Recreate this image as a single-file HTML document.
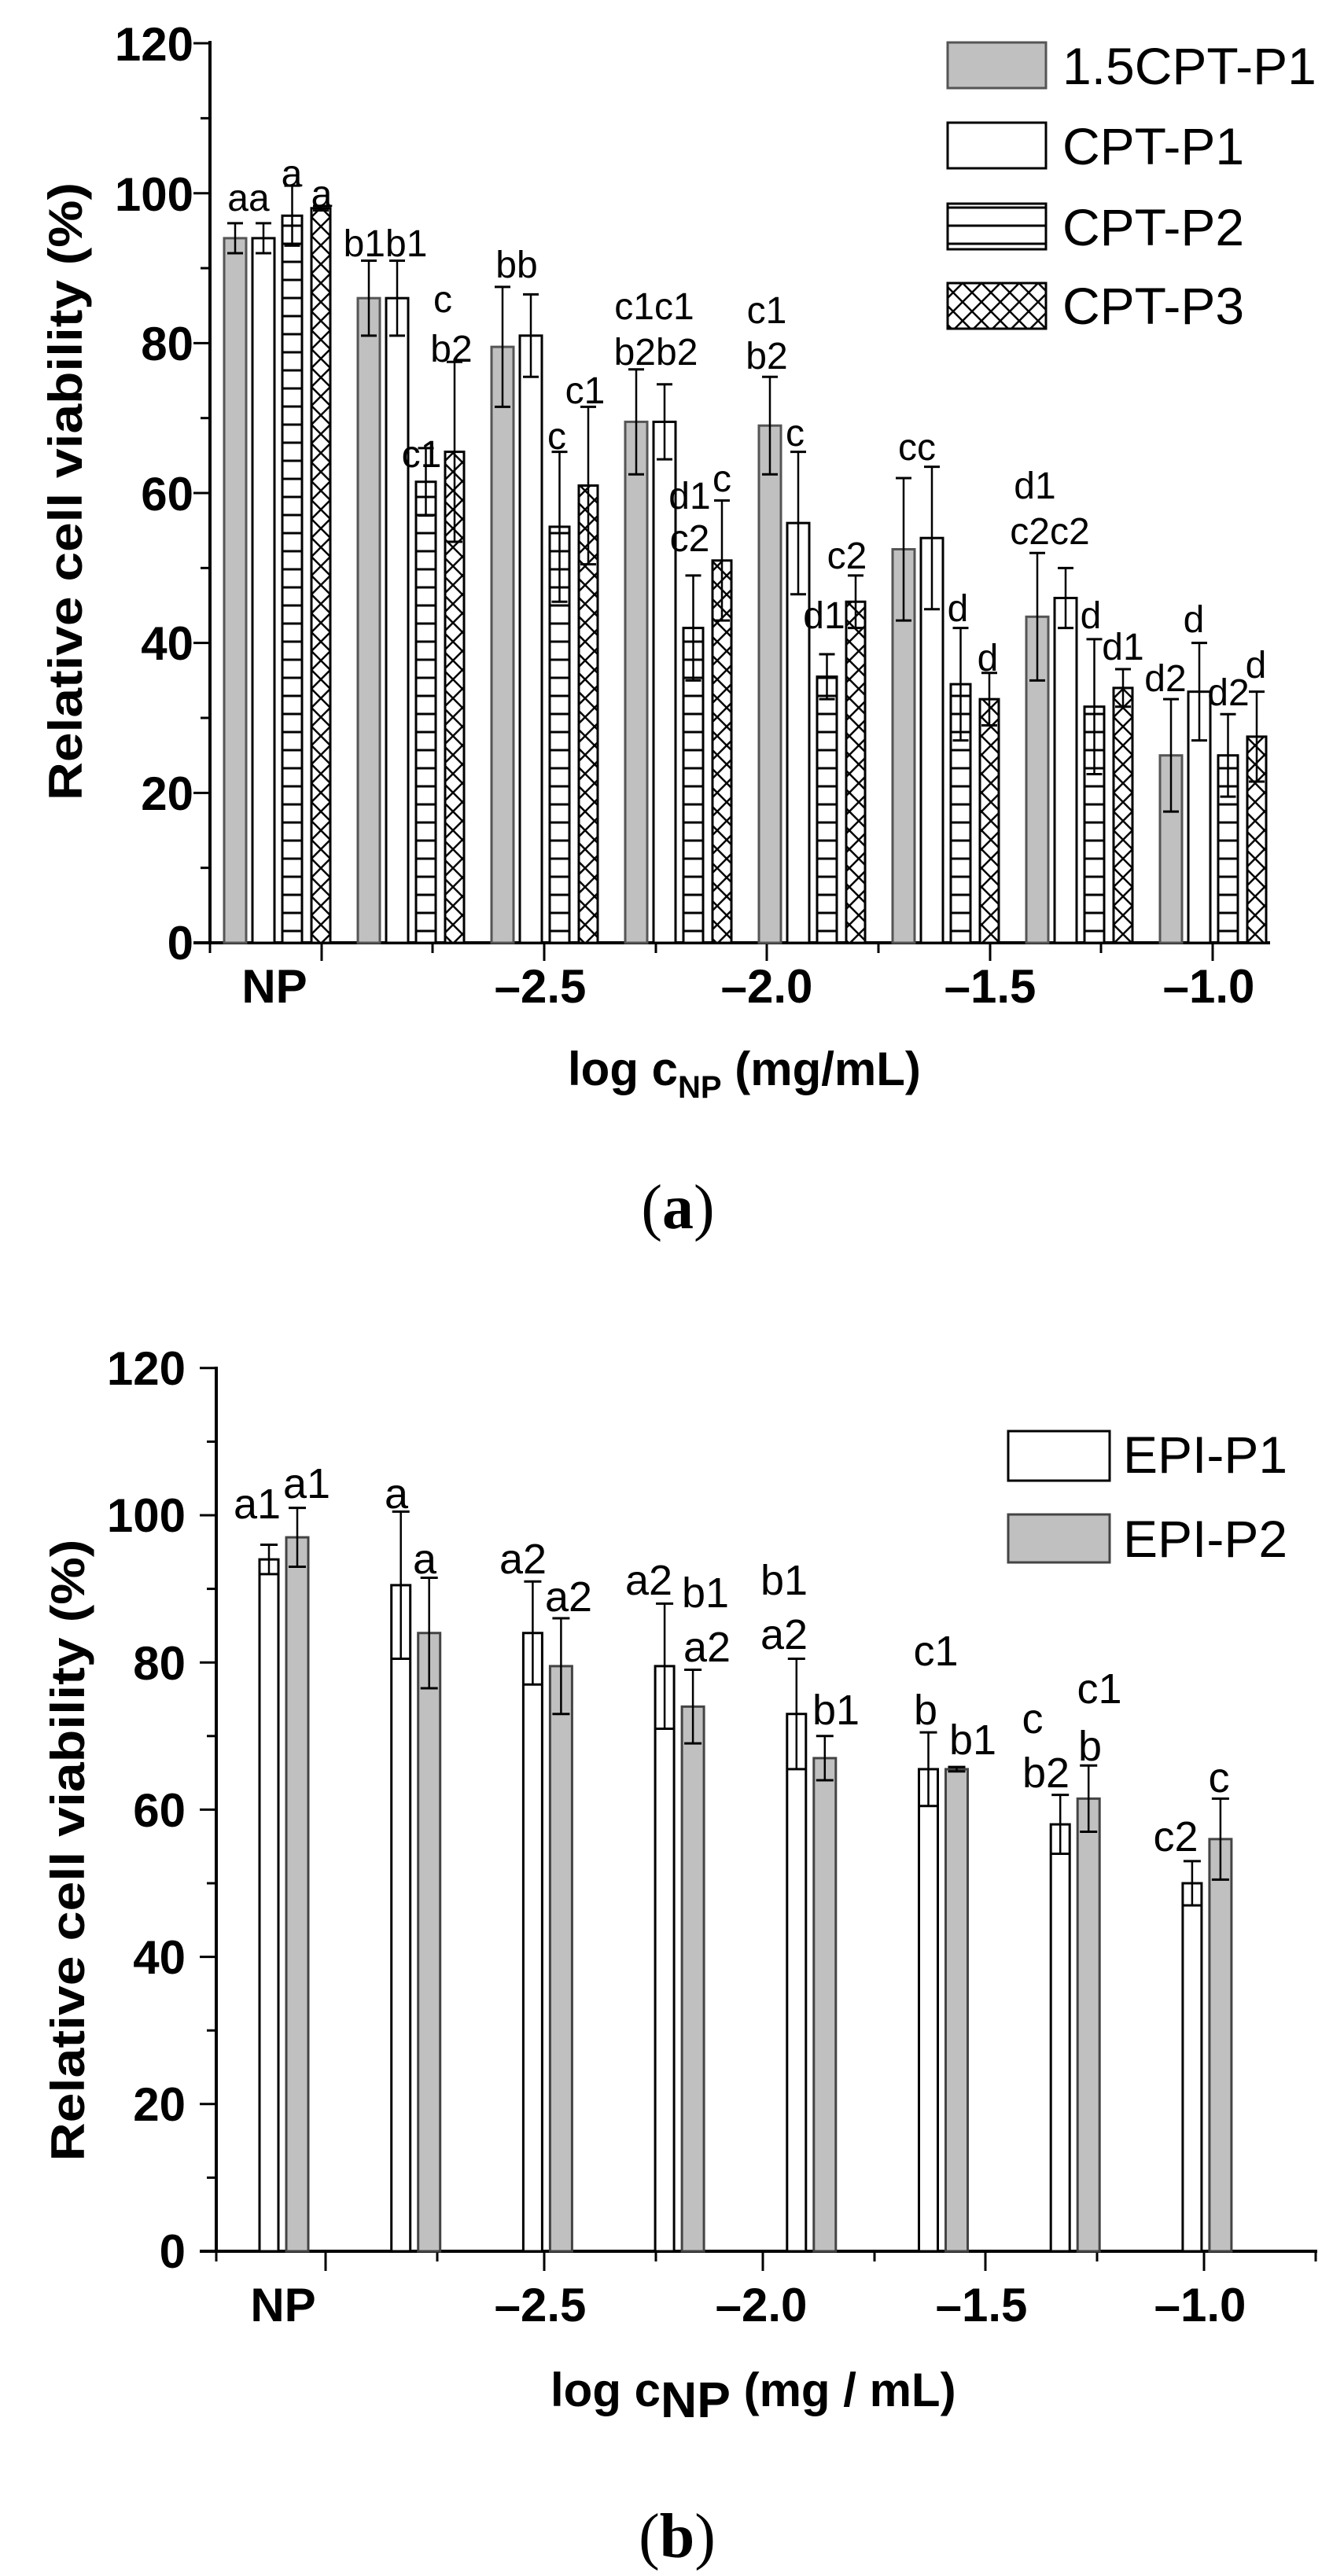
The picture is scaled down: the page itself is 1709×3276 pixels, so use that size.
<!DOCTYPE html>
<html><head><meta charset="utf-8"><style>
html,body{margin:0;padding:0;background:#fff;}
svg{display:block;}
text{font-family:"Liberation Sans",Arial,sans-serif;fill:#000;}
.t{font-weight:bold;font-size:60px;}
.l{font-size:48px;}
.lb{font-size:54px;}
.lg{font-size:66px;}
</style></head><body>
<svg id="s" width="1709" height="3276" viewBox="0 0 1709 3276" xmlns="http://www.w3.org/2000/svg">
<defs>
<pattern id="hz" patternUnits="userSpaceOnUse" width="40" height="23"><rect width="40" height="23" fill="#fff"/><line x1="0" y1="11" x2="40" y2="11" stroke="#000" stroke-width="3"/></pattern>
<pattern id="cx" patternUnits="userSpaceOnUse" width="24" height="24"><rect width="24" height="24" fill="#fff"/><path d="M0 0L24 24M24 0L0 24" stroke="#000" stroke-width="2.5"/></pattern>
</defs>
<g id="g"></g>
<!-- Chart A text -->
<g class="t" text-anchor="end">
<text x="246" y="77">120</text><text x="246" y="268">100</text><text x="246" y="458">80</text><text x="246" y="649">60</text><text x="246" y="839">40</text><text x="246" y="1030">20</text><text x="246" y="1220">0</text>
</g>
<g class="t" text-anchor="middle">
<text x="349" y="1275">NP</text><text x="687" y="1275">–2.5</text><text x="975" y="1275">–2.0</text><text x="1259" y="1275">–1.5</text><text x="1537" y="1275">–1.0</text>
</g>
<text class="t" transform="translate(104,625) rotate(-90)" text-anchor="middle" font-size="62" textLength="786" lengthAdjust="spacingAndGlyphs">Relative cell viability (%)</text>
<text class="t" x="722" y="1380" font-size="64">log c<tspan font-size="40" dy="16">NP</tspan><tspan dy="-16"> (mg/mL)</tspan></text>
<text x="862" y="1562" text-anchor="middle" font-family="Liberation Serif,serif" font-size="80" style="font-family:'Liberation Serif',serif">(<tspan font-weight="bold">a</tspan>)</text>
<g class="lg"><text x="1351" y="107">1.5CPT-P1</text><text x="1351" y="209">CPT-P1</text><text x="1351" y="312">CPT-P2</text><text x="1351" y="412">CPT-P3</text></g>
<g class="l" text-anchor="middle">
<text x="316" y="268">aa</text><text x="371" y="237">a</text><text x="409" y="263">a</text>
<text x="490" y="326">b1b1</text><text x="536" y="594">c1</text><text x="563" y="397">c</text><text x="574" y="460">b2</text>
<text x="657" y="353">bb</text><text x="708" y="571">c</text><text x="744" y="513">c1</text>
<text x="832" y="406">c1c1</text><text x="834" y="464">b2b2</text><text x="877" y="647">d1</text><text x="877" y="701">c2</text><text x="918" y="625">c</text>
<text x="975" y="411">c1</text><text x="975" y="469">b2</text><text x="1011" y="567">c</text><text x="1048" y="799">d1</text><text x="1077" y="723">c2</text>
<text x="1166" y="585">cc</text><text x="1218" y="790">d</text><text x="1256" y="853">d</text>
<text x="1316" y="634">d1</text><text x="1335" y="692">c2c2</text><text x="1387" y="799">d</text><text x="1428" y="839">d1</text>
<text x="1482" y="879">d2</text><text x="1518" y="804">d</text><text x="1562" y="897">d2</text><text x="1597" y="862">d</text>
</g>
<!-- Chart B text -->
<g class="t" text-anchor="end">
<text x="236" y="1761">120</text><text x="236" y="1948">100</text><text x="236" y="2136">80</text><text x="236" y="2323">60</text><text x="236" y="2510">40</text><text x="236" y="2697">20</text><text x="236" y="2884">0</text>
</g>
<g class="t" text-anchor="middle">
<text x="360" y="2952">NP</text><text x="687" y="2952">–2.5</text><text x="968" y="2952">–2.0</text><text x="1248" y="2952">–1.5</text><text x="1526" y="2952">–1.0</text>
</g>
<text class="t" transform="translate(107,2353) rotate(-90)" text-anchor="middle" font-size="62" textLength="791" lengthAdjust="spacingAndGlyphs">Relative cell viability (%)</text>
<text class="t" x="700" y="3060" font-size="64">log c<tspan font-size="64" dy="14">NP</tspan><tspan dy="-14"> (mg / mL)</tspan></text>
<text x="861" y="3252" text-anchor="middle" font-size="80" style="font-family:'Liberation Serif',serif">(<tspan font-weight="bold">b</tspan>)</text>
<g class="lg"><text x="1428" y="1873">EPI-P1</text><text x="1428" y="1980">EPI-P2</text></g>
<g class="lb" text-anchor="middle">
<text x="327" y="1931">a1</text><text x="390" y="1905">a1</text>
<text x="504" y="1918">a</text><text x="540" y="2001">a</text>
<text x="665" y="2001">a2</text><text x="723" y="2049">a2</text>
<text x="825" y="2028">a2</text><text x="897" y="2044">b1</text><text x="899" y="2113">a2</text>
<text x="997" y="2028">b1</text><text x="997" y="2097">a2</text><text x="1063" y="2193">b1</text>
<text x="1190" y="2118">c1</text><text x="1177" y="2193">b</text><text x="1237" y="2231">b1</text>
<text x="1313" y="2204">c</text><text x="1330" y="2273">b2</text><text x="1398" y="2166">c1</text><text x="1386" y="2239">b</text>
<text x="1495" y="2354">c2</text><text x="1550" y="2279">c</text>
</g>
</svg>
<script>
var g=document.getElementById('g'),NS='http://www.w3.org/2000/svg';
function el(n,a){var e=document.createElementNS(NS,n);for(var k in a)e.setAttribute(k,a[k]);g.appendChild(e);return e;}
function line(x1,y1,x2,y2,w,c){el('line',{x1:x1,y1:y1,x2:x2,y2:y2,stroke:c||'#000','stroke-width':w||3});}
// Chart A
var A={x0:267,y0:1199,k:9.533};
line(267,52,267,1201,4);line(246,1199,1615,1199,4);
for(var v=0;v<=120;v+=10){var y=A.y0-v*A.k;line(v%20?255:246,y,267,y,3);}
[267,409,550,692,834,975,1117,1259,1400,1542].forEach(function(x,i){line(x,1199,x,i%2?1222:1212,3);});
var da=[[94,2,94,2,97,4,98,0.3],[86,5,86,5,61.5,4.5,65.5,12],[79.5,8,81,5.5,55.5,10,61,10.5],[69.5,7,69.5,5,42,7,51,8],[69,6.5,56,9.5,35.5,3,45.5,3.5],[52.5,9.5,54,9.5,34.5,7.5,32.5,3.5],[43.5,8.5,46,4,31.5,9,34,2.5],[25,7.5,33.5,6.5,25,5.5,27.5,6]];
var offA=[0,36,74,111],wA=[28,28,25,24],fA=['#c0c0c0','#fff','url(#hz)','url(#cx)'],sA=['#555','#000','#000','#000'];
da.forEach(function(d,i){var gx=285+170*i;for(var j=0;j<4;j++){var m=d[2*j],sd=d[2*j+1],x=gx+offA[j],w=wA[j],top=A.y0-m*A.k;
el('rect',{x:x,y:top,width:w,height:A.y0-top,fill:fA[j],stroke:sA[j],'stroke-width':3});
var cx=x+w/2,yt=A.y0-(m+sd)*A.k,yb=A.y0-(m-sd)*A.k;line(cx,yt,cx,yb,2.5);line(cx-10,yt,cx+10,yt,3);line(cx-10,yb,cx+10,yb,3);}});
// legend A
[[54,'#c0c0c0','#555'],[156,'#fff','#000'],[259,'url(#hz)','#000'],[360,'url(#cx)','#000']].forEach(function(r){el('rect',{x:1205,y:r[0],width:125,height:58,fill:r[1],stroke:r[2],'stroke-width':3});});
// Chart B
var B={y0:2863,k:9.36};
line(275,1738,275,2865,4);line(254,2863,1675,2863,4);
for(var v=0;v<=120;v+=10){var y=B.y0-v*B.k;line(v%20?263:254,y,275,y,3);}
[275,414,556,692,834,970,1112,1253,1395,1531,1673].forEach(function(x,i){line(x,2863,x,i%2?2888:2876,3);});
var db=[[94,2,97,4],[90.5,10,84,7.5],[84,7,79.5,6.5],[79.5,8.5,74,5],[73,7.5,67,3],[65.5,5,65.5,0.3],[58,4,61.5,4.5],[50,3,56,5.5]];
db.forEach(function(d,i){var gx=330+167.7*i;[[0,24,'#fff','#000'],[34,28,'#c0c0c0','#444']].forEach(function(b,j){var m=d[2*j],sd=d[2*j+1],x=gx+b[0],w=b[1],top=B.y0-m*B.k;
el('rect',{x:x,y:top,width:w,height:B.y0-top,fill:b[2],stroke:b[3],'stroke-width':3});
var cx=x+w/2,yt=B.y0-(m+sd)*B.k,yb=B.y0-(m-sd)*B.k;line(cx,yt,cx,yb,2.5);line(cx-11,yt,cx+11,yt,3);line(cx-11,yb,cx+11,yb,3);});});
el('rect',{x:1282,y:1820,width:129,height:63,fill:'#fff',stroke:'#000','stroke-width':3});
el('rect',{x:1282,y:1926,width:129,height:61,fill:'#c0c0c0',stroke:'#444','stroke-width':3});
</script>
</body></html>
